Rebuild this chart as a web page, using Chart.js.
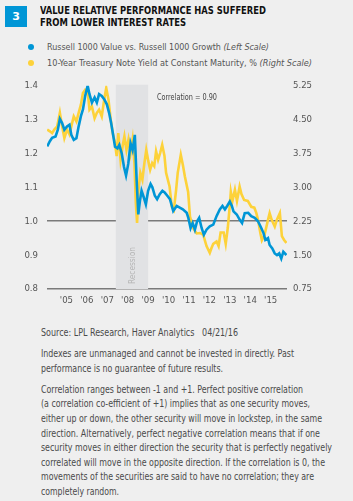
<!DOCTYPE html>
<html><head><meta charset="utf-8">
<script src="https://cdn.jsdelivr.net/npm/chart.js@4/dist/chart.umd.min.js"></script>
<style>
html,body{margin:0;padding:0;background:#efefef;}
body{width:353px;height:501px;position:relative;overflow:hidden;font-family:'DejaVu Sans Condensed','DejaVu Sans',sans-serif;color:#4a4a4a;}
#num{position:absolute;left:5px;top:6px;width:22px;height:21px;background:#0096d6;color:#fff;font:bold 11px 'DejaVu Sans',sans-serif;display:flex;align-items:center;justify-content:center;}
.fit{position:absolute;white-space:nowrap;transform-origin:0 50%;display:inline-block;}
.title{left:40px;font-weight:bold;font-size:11px;line-height:12px;color:#111;}
.leg{left:47px;font-size:9.5px;line-height:12px;color:#555;}
.dot{position:absolute;left:28px;width:6px;height:6px;border-radius:50%;}
#corr{left:157px;top:91px;font-size:8.5px;line-height:12px;color:#444;}
#chartWrap{position:absolute;left:0;top:71px;width:353px;height:240px;}
.foot{left:41px;font-size:10px;line-height:14px;color:#4a4a4a;}
</style></head>
<body>
<div id="num">3</div>
<div class="fit title" style="top:5px" data-w="226">VALUE RELATIVE PERFORMANCE HAS SUFFERED</div>
<div class="fit title" style="top:17px" data-w="146">FROM LOWER INTEREST RATES</div>
<div class="dot" style="top:44px;background:#0096d6"></div>
<div class="fit leg" style="top:41px" data-w="222">Russell 1000 Value vs. Russell 1000 Growth <i>(Left Scale)</i></div>
<div class="dot" style="top:60px;background:#fdd23a"></div>
<div class="fit leg" style="top:57px" data-w="265">10-Year Treasury Note Yield at Constant Maturity, % <i>(Right Scale)</i></div>
<div id="chartWrap"><canvas id="c" width="353" height="240"></canvas></div>
<div class="fit" id="corr" data-w="60">Correlation = 0.90</div>
<div class="fit foot" style="top:326px" data-w="197">Source: LPL Research, Haver Analytics &nbsp; 04/21/16</div>
<div class="fit foot" style="top:347px" data-w="253">Indexes are unmanaged and cannot be invested in directly. Past</div>
<div class="fit foot" style="top:362px" data-w="182">performance is no guarantee of future results.</div>
<div class="fit foot" style="top:383px" data-w="262">Correlation ranges between -1 and +1. Perfect positive correlation</div>
<div class="fit foot" style="top:397px" data-w="269">(a correlation co-efficient of +1) implies that as one security moves,</div>
<div class="fit foot" style="top:412px" data-w="281">either up or down, the other security will move in lockstep, in the same</div>
<div class="fit foot" style="top:427px" data-w="279">direction. Alternatively, perfect negative correlation means that if one</div>
<div class="fit foot" style="top:441px" data-w="291">security moves in either direction the security that is perfectly negatively</div>
<div class="fit foot" style="top:456px" data-w="284">correlated will move in the opposite direction. If the correlation is 0, the</div>
<div class="fit foot" style="top:470px" data-w="273">movements of the securities are said to have no correlation; they are</div>
<div class="fit foot" style="top:485px" data-w="78">completely random.</div>
<script>
const valueDates = [2004.56,2004.69,2004.80,2004.97,2005.08,2005.18,2005.29,2005.40,2005.53,2005.65,2005.74,2005.86,2005.99,2006.10,2006.21,2006.31,2006.42,2006.54,2006.63,2006.75,2006.88,2006.99,2007.10,2007.23,2007.35,2007.48,2007.59,2007.69,2007.80,2007.88,2008.00,2008.09,2008.21,2008.32,2008.42,2008.53,2008.64,2008.74,2008.85,2008.94,2009.02,2009.10,2009.18,2009.29,2009.39,2009.50,2009.62,2009.71,2009.83,2009.94,2010.07,2010.20,2010.31,2010.44,2010.57,2010.73,2010.90,2011.05,2011.20,2011.39,2011.47,2011.58,2011.68,2011.79,2011.90,2012.00,2012.12,2012.23,2012.36,2012.52,2012.69,2012.85,2013.01,2013.14,2013.26,2013.37,2013.50,2013.60,2013.68,2013.84,2013.98,2014.10,2014.23,2014.40,2014.55,2014.72,2014.88,2015.04,2015.15,2015.24,2015.37,2015.45,2015.58,2015.70,2015.81,2015.92,2016.02,2016.12,2016.27];
const valueRatio = [1.221,1.236,1.246,1.25,1.27,1.302,1.29,1.27,1.28,1.285,1.255,1.24,1.245,1.28,1.31,1.33,1.37,1.40,1.375,1.35,1.365,1.35,1.375,1.37,1.36,1.345,1.32,1.29,1.25,1.22,1.215,1.225,1.20,1.16,1.135,1.17,1.23,1.21,1.255,1.12,1.02,1.06,1.09,1.07,1.05,1.09,1.11,1.10,1.075,1.065,1.08,1.09,1.085,1.075,1.065,1.03,1.045,1.04,1.035,1.025,1.01,0.98,0.995,0.975,1.0,1.01,0.98,0.96,0.975,0.985,0.99,1.015,1.035,1.045,1.035,1.045,1.058,1.045,1.029,1.02,1.005,0.995,1.024,1.025,1.015,1.01,1.0,0.98,0.965,0.945,0.95,0.93,0.92,0.905,0.90,0.905,0.89,0.91,0.90];
const yieldDates = [2004.56,2004.69,2004.80,2004.91,2005.05,2005.18,2005.29,2005.40,2005.53,2005.65,2005.74,2005.86,2005.99,2006.10,2006.21,2006.31,2006.42,2006.54,2006.63,2006.75,2006.88,2006.99,2007.10,2007.23,2007.35,2007.45,2007.56,2007.67,2007.77,2007.88,2007.96,2008.04,2008.15,2008.25,2008.34,2008.44,2008.54,2008.64,2008.74,2008.83,2008.90,2008.96,2009.03,2009.12,2009.22,2009.32,2009.41,2009.51,2009.60,2009.70,2009.80,2009.89,2009.99,2010.09,2010.19,2010.30,2010.38,2010.55,2010.66,2010.76,2010.87,2010.95,2011.10,2011.20,2011.30,2011.46,2011.55,2011.71,2011.88,2012.04,2012.20,2012.36,2012.52,2012.60,2012.69,2012.85,2012.95,2013.05,2013.20,2013.30,2013.40,2013.50,2013.55,2013.63,2013.75,2013.85,2013.98,2014.07,2014.20,2014.38,2014.55,2014.70,2014.80,2014.88,2015.00,2015.07,2015.20,2015.37,2015.45,2015.55,2015.70,2015.80,2015.95,2016.05,2016.15,2016.27];
const yieldPct = [4.28,4.24,4.20,4.28,4.35,4.65,4.35,4.09,4.28,4.17,4.35,4.57,4.46,4.65,4.83,5.09,5.16,5.12,4.72,4.79,4.53,4.65,4.72,4.57,4.94,5.20,4.94,4.50,4.20,3.98,3.69,4.20,3.61,3.91,4.13,3.83,4.06,3.76,4.06,3.54,2.65,2.21,2.95,3.32,3.17,3.54,3.83,3.58,3.39,3.54,3.47,3.80,3.61,3.76,3.94,3.70,3.32,3.02,2.57,2.50,2.94,3.32,3.72,3.50,3.24,2.90,2.35,2.09,1.98,1.99,1.95,1.70,1.55,1.65,1.75,1.80,1.70,2.00,2.00,1.75,2.10,2.60,2.90,2.70,2.95,2.70,3.02,2.85,2.72,2.70,2.57,2.55,2.43,2.28,1.98,1.83,1.95,2.28,2.43,2.28,2.13,2.28,2.43,1.92,1.84,1.77];
const xTickValues = [2005.5,2006.5,2007.5,2008.5,2009.5,2010.5,2011.5,2012.5,2013.5,2014.5,2015.5];
const xTickLabels = ["'05","'06","'07","'08","'09","'10","'11","'12","'13","'14","'15"];
const leftTicks = [0.8,0.9,1.0,1.1,1.2,1.3,1.4];
const rightTicks = [0.75,1.5,2.25,3.0,3.75,4.5,5.25];
const recession = [2007.92, 2009.5];
const seriesNames = ['Russell 1000 Value vs. Russell 1000 Growth','10-Year Treasury Note Yield at Constant Maturity, %'];

function fitAll(){
  document.querySelectorAll('.fit').forEach(el=>{
    el.style.transform='none';
    const w = el.getBoundingClientRect().width;
    const t = parseFloat(el.dataset.w);
    if (w>0) el.style.transform = 'scaleX(' + (t/w) + ')';
  });
}
fitAll();
if (document.fonts && document.fonts.ready) document.fonts.ready.then(fitAll);

const FONT = "'DejaVu Sans Condensed','DejaVu Sans',sans-serif";
Chart.defaults.font.family = FONT;
Chart.defaults.color = '#555';

const recessionPlugin = {
  id:'recession',
  beforeDatasetsDraw(chart){
    const {ctx, chartArea, scales:{x}} = chart;
    const x0 = x.getPixelForValue(recession[0]), x1 = x.getPixelForValue(recession[1]);
    ctx.save();
    ctx.fillStyle = '#e1e2e4';
    ctx.fillRect(x0, chartArea.top - 1, x1 - x0, chartArea.bottom - chartArea.top + 1);
    ctx.translate((x0 + x1) / 2 + 1, chartArea.bottom - 5);
    ctx.rotate(-Math.PI / 2);
    ctx.fillStyle = '#b5b5b5';
    ctx.font = "8.5px " + FONT;
    ctx.textAlign = 'left';
    ctx.textBaseline = 'middle';
    const word = 'Recession';
    const natural = ctx.measureText(word).width;
    ctx.scale(37 / natural, 1);
    ctx.fillText(word, 0, 0);
    ctx.restore();
  }
};

const gridColor = (ctx) => {
  const v = ctx.tick && ctx.tick.value;
  return (Math.abs(v - 1) < 1e-6 || Math.abs(v - 0.8) < 1e-6) ? '#7a7a7a' : 'rgba(0,0,0,0)';
};

new Chart(document.getElementById('c'), {
  type:'line',
  data:{
    datasets:[
      {label:seriesNames[0], data:valueDates.map((d,i)=>({x:d,y:valueRatio[i]})), borderColor:'#0096d6', borderWidth:2.6, pointRadius:0, tension:0, yAxisID:'y'},
      {label:seriesNames[1], data:yieldDates.map((d,i)=>({x:d,y:yieldPct[i]})), borderColor:'#fdd23a', borderWidth:2.6, pointRadius:0, tension:0, yAxisID:'y1'}
    ]
  },
  options:{
    responsive:false, animation:false, devicePixelRatio:1,
    layout:{padding:{top:8,left:0,right:0,bottom:0}},
    plugins:{legend:{display:false}, tooltip:{enabled:false}},
    scales:{
      x:{type:'linear', min:2004.55, max:2016.3,
        afterBuildTicks:(s)=>{ s.ticks = xTickValues.map(v=>({value:v})); },
        afterFit:(s)=>{ s.height = 22; },
        ticks:{autoSkip:false, maxRotation:0, padding:6, color:'#555', font:{size:9.5}, callback:(v,i)=>xTickLabels[i]},
        grid:{display:false, drawTicks:false}, border:{display:false}},
      y:{position:'left', min:0.8, max:1.4,
        afterBuildTicks:(s)=>{ s.ticks = leftTicks.map(v=>({value:v})); },
        afterFit:(s)=>{ s.width = 47; },
        ticks:{padding:9, color:'#555', font:{size:9.5}, callback:(v)=>v.toFixed(1)},
        grid:{drawTicks:false, color:gridColor, lineWidth:1.6}, border:{display:false}},
      y1:{position:'right', min:0.75, max:5.25,
        afterBuildTicks:(s)=>{ s.ticks = rightTicks.map(v=>({value:v})); },
        afterFit:(s)=>{ s.width = 66; },
        ticks:{padding:6, color:'#555', font:{size:9.5}, callback:(v)=>v.toFixed(2)},
        grid:{display:false, drawTicks:false}, border:{display:false}}
    }
  },
  plugins:[recessionPlugin]
});
</script>
</body></html>
